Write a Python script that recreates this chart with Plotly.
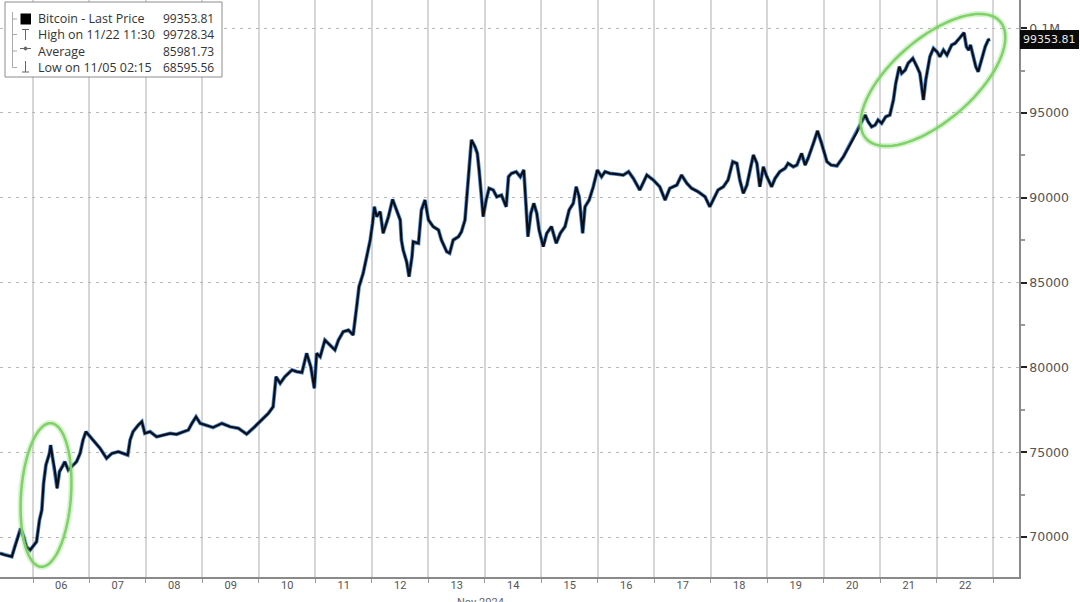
import numpy as np
import plotly.graph_objects as go

# ---------------- data ----------------
times = [
    "2024-11-05 10:00", "2024-11-05 12:00", "2024-11-05 15:00", "2024-11-05 16:15", "2024-11-05 17:45",
    "2024-11-05 18:45", "2024-11-05 20:00", "2024-11-05 21:15", "2024-11-05 22:45", "2024-11-06 00:00",
    "2024-11-06 01:30", "2024-11-06 02:45", "2024-11-06 03:45", "2024-11-06 04:30", "2024-11-06 05:30",
    "2024-11-06 07:00", "2024-11-06 07:30", "2024-11-06 08:15", "2024-11-06 09:15", "2024-11-06 10:15",
    "2024-11-06 11:15", "2024-11-06 12:30", "2024-11-06 13:30", "2024-11-06 15:00", "2024-11-06 16:30",
    "2024-11-06 18:30", "2024-11-06 20:00", "2024-11-06 21:15", "2024-11-06 22:30", "2024-11-07 00:15",
    "2024-11-07 02:15", "2024-11-07 04:30", "2024-11-07 07:15", "2024-11-07 09:30", "2024-11-07 12:15",
    "2024-11-07 14:15", "2024-11-07 16:15", "2024-11-07 17:15", "2024-11-07 18:30", "2024-11-07 20:45",
    "2024-11-07 22:15", "2024-11-07 23:30", "2024-11-08 01:45", "2024-11-08 04:30", "2024-11-08 07:15",
    "2024-11-08 10:15", "2024-11-08 13:00", "2024-11-08 15:45", "2024-11-08 18:00", "2024-11-08 19:30",
    "2024-11-08 21:15", "2024-11-08 23:00", "2024-11-09 01:45", "2024-11-09 04:30", "2024-11-09 08:15",
    "2024-11-09 11:45", "2024-11-09 15:15", "2024-11-09 18:45", "2024-11-09 21:30", "2024-11-10 01:15",
    "2024-11-10 04:00", "2024-11-10 06:00", "2024-11-10 07:15", "2024-11-10 09:00", "2024-11-10 11:00",
    "2024-11-10 14:00", "2024-11-10 16:00", "2024-11-10 18:15", "2024-11-10 20:15", "2024-11-10 22:00",
    "2024-11-10 23:30", "2024-11-11 00:30", "2024-11-11 02:00", "2024-11-11 04:00", "2024-11-11 06:15",
    "2024-11-11 08:15", "2024-11-11 09:45", "2024-11-11 11:45", "2024-11-11 14:00", "2024-11-11 16:00",
    "2024-11-11 17:30", "2024-11-11 18:30", "2024-11-11 20:15", "2024-11-11 21:45", "2024-11-11 23:15",
    "2024-11-12 00:15", "2024-11-12 01:00", "2024-11-12 02:00", "2024-11-12 03:30", "2024-11-12 04:45",
    "2024-11-12 07:00", "2024-11-12 08:45", "2024-11-12 10:30", "2024-11-12 12:00", "2024-11-12 12:30",
    "2024-11-12 13:15", "2024-11-12 14:45", "2024-11-12 15:45", "2024-11-12 17:00", "2024-11-12 17:30",
    "2024-11-12 19:45", "2024-11-12 21:00", "2024-11-12 22:30", "2024-11-13 00:00", "2024-11-13 02:00",
    "2024-11-13 04:15", "2024-11-13 05:30", "2024-11-13 07:45", "2024-11-13 09:00", "2024-11-13 10:30",
    "2024-11-13 12:45", "2024-11-13 14:00", "2024-11-13 15:30", "2024-11-13 16:45", "2024-11-13 17:45",
    "2024-11-13 18:15", "2024-11-13 19:45", "2024-11-13 20:45", "2024-11-13 21:30", "2024-11-13 22:30",
    "2024-11-13 23:15", "2024-11-14 00:30", "2024-11-14 01:45", "2024-11-14 03:30", "2024-11-14 05:00",
    "2024-11-14 07:00", "2024-11-14 09:00", "2024-11-14 10:00", "2024-11-14 11:15", "2024-11-14 13:15",
    "2024-11-14 15:00", "2024-11-14 16:30", "2024-11-14 17:30", "2024-11-14 18:15", "2024-11-14 19:30",
    "2024-11-14 20:45", "2024-11-14 22:00", "2024-11-14 23:00", "2024-11-15 00:45", "2024-11-15 02:15",
    "2024-11-15 04:15", "2024-11-15 06:15", "2024-11-15 08:00", "2024-11-15 10:00", "2024-11-15 11:45",
    "2024-11-15 13:30", "2024-11-15 14:45", "2024-11-15 16:00", "2024-11-15 17:30", "2024-11-15 18:30",
    "2024-11-15 20:15", "2024-11-15 22:00", "2024-11-15 23:45", "2024-11-16 01:30", "2024-11-16 03:00",
    "2024-11-16 05:00", "2024-11-16 08:00", "2024-11-16 10:45", "2024-11-16 13:00", "2024-11-16 15:00",
    "2024-11-16 17:45", "2024-11-16 20:45", "2024-11-16 23:30", "2024-11-17 02:15", "2024-11-17 04:30",
    "2024-11-17 06:30", "2024-11-17 09:30", "2024-11-17 11:30", "2024-11-17 13:45", "2024-11-17 15:45",
    "2024-11-17 18:30", "2024-11-17 21:30", "2024-11-17 23:30", "2024-11-18 01:00", "2024-11-18 03:00",
    "2024-11-18 05:15", "2024-11-18 07:15", "2024-11-18 09:15", "2024-11-18 11:00", "2024-11-18 12:15",
    "2024-11-18 13:45", "2024-11-18 15:15", "2024-11-18 16:30", "2024-11-18 18:00", "2024-11-18 19:30",
    "2024-11-18 20:45", "2024-11-18 22:15", "2024-11-18 23:45", "2024-11-19 01:45", "2024-11-19 03:15",
    "2024-11-19 05:15", "2024-11-19 07:30", "2024-11-19 08:45", "2024-11-19 11:00", "2024-11-19 12:30",
    "2024-11-19 14:30", "2024-11-19 16:00", "2024-11-19 17:15", "2024-11-19 19:30", "2024-11-19 21:15",
    "2024-11-19 23:00", "2024-11-20 01:15", "2024-11-20 03:00", "2024-11-20 05:30", "2024-11-20 08:15",
    "2024-11-20 10:15", "2024-11-20 12:30", "2024-11-20 14:00", "2024-11-20 16:00", "2024-11-20 17:30",
    "2024-11-20 18:45", "2024-11-20 20:15", "2024-11-20 21:45", "2024-11-20 23:00", "2024-11-21 00:30",
    "2024-11-21 02:15", "2024-11-21 04:00", "2024-11-21 05:30", "2024-11-21 06:30", "2024-11-21 08:00",
    "2024-11-21 09:00", "2024-11-21 10:30", "2024-11-21 11:45", "2024-11-21 13:45", "2024-11-21 15:30",
    "2024-11-21 16:45", "2024-11-21 18:15", "2024-11-21 19:15", "2024-11-21 21:00", "2024-11-21 22:30",
    "2024-11-22 00:00", "2024-11-22 01:15", "2024-11-22 02:45", "2024-11-22 04:15", "2024-11-22 06:15",
    "2024-11-22 07:45", "2024-11-22 09:30", "2024-11-22 11:30", "2024-11-22 12:30", "2024-11-22 13:30",
    "2024-11-22 14:15", "2024-11-22 15:30", "2024-11-22 16:30", "2024-11-22 17:30", "2024-11-22 19:00",
    "2024-11-22 20:30", "2024-11-22 21:45", "2024-11-22 22:30",
]

prices = [
    69040, 68940, 68840, 69430, 70120, 70510, 70020, 69430, 69230, 69430,
    69720, 71000, 71590, 73170, 74250, 74930, 75420, 74730, 73950, 72870,
    73850, 74150, 74440, 73950, 74150, 74440, 74930, 75720, 76210, 75910,
    75620, 75230, 74640, 74930, 75030, 74930, 74830, 75720, 76210, 76600,
    76800, 76110, 76210, 75910, 76010, 76110, 76050, 76210, 76310, 76700,
    77090, 76700, 76600, 76460, 76700, 76500, 76410, 76070, 76410, 76900,
    77290, 77680, 79450, 79060, 79450, 79850, 79750, 79700, 80830, 80040,
    78770, 80830, 80630, 81610, 81320, 81030, 81610, 82100, 82200, 81910,
    83580, 84760, 85550, 86530, 87510, 88500, 89470, 88890, 89180, 87910,
    88890, 89910, 89180, 88690, 87510, 86920, 86210, 85350, 86530, 87410,
    87320, 89280, 89870, 88690, 88300, 88100, 87510, 86820, 86730, 87510,
    87710, 88000, 88690, 90850, 92230, 93410, 93010, 92620, 91640, 90260,
    88890, 89870, 90560, 90460, 90060, 90160, 89470, 91240, 91440, 91540,
    91240, 91640, 89470, 87710, 89090, 89670, 89090, 88100, 87120, 87910,
    88300, 87320, 87910, 88300, 89280, 89670, 90650, 90060, 87910, 89470,
    89870, 90650, 91640, 91240, 91540, 91440, 91400, 91340, 91540, 91150,
    90460, 91340, 91050, 90650, 89870, 90560, 90750, 91340, 90850, 90560,
    90360, 90060, 89470, 89870, 90460, 90650, 91050, 92130, 92030, 91050,
    90260, 90750, 91540, 92520, 92030, 90650, 91830, 91240, 90650, 91150,
    91540, 91740, 92030, 91830, 91930, 92620, 91930, 92330, 93210, 93940,
    93210, 92130, 91930, 91880, 92420, 92930, 93510, 93880, 94490, 94880,
    94490, 94190, 94290, 94590, 94390, 94780, 94880, 95770, 96750, 97730,
    97340, 97530, 97930, 98220, 97730, 97340, 95770, 96950, 98320, 98810,
    98610, 98320, 98710, 98420, 99010, 99110, 99400, 99728.34, 98910, 98710,
    99010, 98320, 97730, 97430, 98220, 98910, 99300, 99353.81,
]

day_dates = ["2024-11-06", "2024-11-07", "2024-11-08", "2024-11-09", "2024-11-10", "2024-11-11",
             "2024-11-12", "2024-11-13", "2024-11-14", "2024-11-15", "2024-11-16", "2024-11-17",
             "2024-11-18", "2024-11-19", "2024-11-20", "2024-11-21", "2024-11-22"]
day_labels = ["06", "07", "08", "09", "10", "11", "12", "13", "14", "15", "16", "17",
              "18", "19", "20", "21", "22"]
grid_dates = day_dates + ["2024-11-23"]

y_tick_values = [70000, 75000, 80000, 85000, 90000, 95000, 100000]
y_tick_text = ["70000", "75000", "80000", "85000", "90000", "95000", "0.1M"]

legend_labels = ["Bitcoin - Last Price", "High on 11/22 11:30", "Average", "Low on 11/05 02:15"]
legend_values = ["99353.81", "99728.34", "85981.73", "68595.56"]
last_price = 99353.81
month_label = "Nov 2024"

x_range = ["2024-11-05 09:59", "2024-11-23 10:51"]
y_range = [67642, 101662]

# ---------------- layout helpers ----------------
W, H = 1080, 602
ML, MR, MT, MB = 0, 61, 0, 25
PW, PH = W - ML - MR, H - MT - MB


def pxx(x):
    return (x - ML) / PW


def pxy(y):
    return 1 - (y - MT) / PH


def ellipse_path(cx, cy, a, b, ang_deg, n=80):
    t = np.linspace(0, 2 * np.pi, n)
    ang = np.radians(ang_deg)
    xs = cx + a * np.cos(t) * np.cos(ang) - b * np.sin(t) * np.sin(ang)
    ys = cy + a * np.cos(t) * np.sin(ang) + b * np.sin(t) * np.cos(ang)
    pts = [f"{pxx(x):.5f},{pxy(y):.5f}" for x, y in zip(xs, ys)]
    return "M " + " L ".join(pts) + " Z"


fig = go.Figure()
# blue under-stroke on the base axis, black line on the overlaying axis (drawn on top)
fig.add_trace(go.Scatter(x=times, y=prices, mode="lines",
                         line=dict(color="#4f8ad0", width=3.8), hoverinfo="skip", showlegend=False))
fig.add_trace(go.Scatter(x=times, y=prices, mode="lines", xaxis="x2",
                         line=dict(color="#0d0d14", width=2.2), showlegend=False))

axis_common = dict(type="date", range=x_range, zeroline=False)
fig.update_layout(
    width=W, height=H,
    margin=dict(l=ML, r=MR, t=MT, b=MB),
    paper_bgcolor="white", plot_bgcolor="white",
    showlegend=False,
    xaxis=dict(**axis_common, tickmode="array", tickvals=grid_dates, showticklabels=False,
               showgrid=True, gridcolor="#d6d6d6", gridwidth=1.5,
               ticks="outside", ticklen=4, tickcolor="#999",
               showline=True, linecolor="#8a8a8a", linewidth=1.5),
    xaxis2=dict(**axis_common, overlaying="x", anchor="y", side="bottom",
                tickmode="array", tickvals=[d + " 12:00" for d in day_dates], ticktext=day_labels,
                showgrid=False, ticks="", showline=False,
                tickfont=dict(family="Roboto, Liberation Sans", size=11, color="#555")),
    yaxis=dict(range=y_range, side="right", tickmode="array", tickvals=y_tick_values,
               ticktext=y_tick_text, showgrid=True, gridcolor="#b8b8b8", gridwidth=1,
               griddash="3px,5px", zeroline=False,
               ticks="outside", ticklen=6, tickwidth=2, tickcolor="#222",
               minor=dict(dtick=2500, tick0=0, ticks="outside", ticklen=4, tickcolor="#999",
                          showgrid=False),
               showline=True, linecolor="#8a8a8a", linewidth=1.5,
               tickfont=dict(family="DejaVu Sans", size=12.5, color="#555")),
)

shapes = []
annotations = []

# green highlight ellipses
for cx, cy, a, b, ang in [(46, 495, 72, 25, 94), (933, 80, 89, 41, -41)]:
    path = ellipse_path(cx, cy, a, b, ang)
    shapes.append(dict(type="path", path=path, xref="paper", yref="paper",
                       line=dict(color="rgba(140,220,120,0.35)", width=6)))
    shapes.append(dict(type="path", path=path, xref="paper", yref="paper",
                       line=dict(color="#7fd168", width=2.5)))

# legend box
shapes.append(dict(type="rect", xref="paper", yref="paper",
                   x0=pxx(5), x1=pxx(222), y0=pxy(77), y1=pxy(2),
                   line=dict(color="#8c8c8c", width=1), fillcolor="white", layer="above"))
row_y = [19, 34.5, 51, 67.5]
# tree line
shapes.append(dict(type="line", xref="paper", yref="paper", x0=pxx(12.5), x1=pxx(12.5),
                   y0=pxy(12), y1=pxy(row_y[3]), line=dict(color="#aaa", width=1), layer="above"))
for ry in row_y:
    shapes.append(dict(type="line", xref="paper", yref="paper", x0=pxx(12.5), x1=pxx(17),
                       y0=pxy(ry), y1=pxy(ry), line=dict(color="#aaa", width=1), layer="above"))
# black square icon
shapes.append(dict(type="rect", xref="paper", yref="paper", x0=pxx(20.5), x1=pxx(31),
                   y0=pxy(24.5), y1=pxy(13.5), line=dict(width=0), fillcolor="#000", layer="above"))
# high icon (T)
shapes.append(dict(type="line", xref="paper", yref="paper", x0=pxx(22), x1=pxx(29),
                   y0=pxy(29.5), y1=pxy(29.5), line=dict(color="#666", width=1), layer="above"))
shapes.append(dict(type="line", xref="paper", yref="paper", x0=pxx(25.5), x1=pxx(25.5),
                   y0=pxy(29.5), y1=pxy(40), line=dict(color="#666", width=1), layer="above"))
# average icon
shapes.append(dict(type="line", xref="paper", yref="paper", x0=pxx(20), x1=pxx(31),
                   y0=pxy(48.5), y1=pxy(48.5), line=dict(color="#666", width=1), layer="above"))
shapes.append(dict(type="circle", xref="paper", yref="paper", x0=pxx(24), x1=pxx(27),
                   y0=pxy(50), y1=pxy(47), line=dict(color="#666", width=1), fillcolor="#666",
                   layer="above"))
# low icon (inverted T)
shapes.append(dict(type="line", xref="paper", yref="paper", x0=pxx(25.5), x1=pxx(25.5),
                   y0=pxy(61), y1=pxy(72), line=dict(color="#666", width=1), layer="above"))
shapes.append(dict(type="line", xref="paper", yref="paper", x0=pxx(22), x1=pxx(29),
                   y0=pxy(72), y1=pxy(72), line=dict(color="#666", width=1), layer="above"))

label_font = dict(family="Open Sans, Noto Sans", size=12.5, color="#333")
value_font = dict(family="Open Sans, Noto Sans", size=12, color="#333")
for ry, lab, val in zip(row_y, legend_labels, legend_values):
    annotations.append(dict(xref="paper", yref="paper", x=pxx(36), y=pxy(ry), text=lab,
                            showarrow=False, xanchor="left", yanchor="middle", font=label_font))
    annotations.append(dict(xref="paper", yref="paper", x=pxx(216), y=pxy(ry), text=val,
                            showarrow=False, xanchor="right", yanchor="middle", font=value_font))

# last price tag on the right axis
annotations.append(dict(xref="paper", yref="y", x=1.0, y=last_price, text=f"{last_price:.2f}",
                        showarrow=False, xanchor="left", yanchor="middle", xshift=1,
                        bgcolor="#0a0a0a", bordercolor="#0a0a0a", borderpad=2,
                        font=dict(family="DejaVu Sans", size=11, color="#e8e8e8")))

# month label under the axis (partly cut off at the bottom edge, as in the reference)
annotations.append(dict(xref="paper", yref="paper", x=pxx(480), y=pxy(594), text=month_label,
                        showarrow=False, xanchor="center", yanchor="top",
                        font=dict(family="Roboto, Liberation Sans", size=11, color="#666")))

fig.update_layout(shapes=shapes, annotations=annotations)
fig.write_html("out.html", config={"displayModeBar": False},
               post_script="document.body.style.margin='0px';")
